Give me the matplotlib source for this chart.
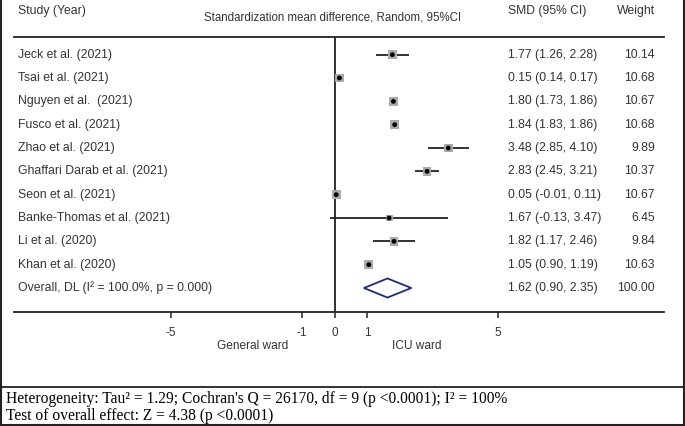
import matplotlib
matplotlib.use("Agg")
import matplotlib.pyplot as plt
from matplotlib.patches import Polygon
from matplotlib.lines import Line2D
from matplotlib.transforms import blended_transform_factory

# ---------------- data ----------------
studies = ["Jeck et al. (2021)", "Tsai et al. (2021)", "Nguyen et al.  (2021)",
           "Fusco et al. (2021)", "Zhao et al. (2021)", "Ghaffari Darab et al. (2021)",
           "Seon et al. (2021)", "Banke-Thomas et al. (2021)", "Li et al. (2020)",
           "Khan et al. (2020)"]
smd = [1.77, 0.15, 1.80, 1.84, 3.48, 2.83, 0.05, 1.67, 1.82, 1.05]
ci_low = [1.26, 0.14, 1.73, 1.83, 2.85, 2.45, -0.01, -0.13, 1.17, 0.90]
ci_high = [2.28, 0.17, 1.86, 1.86, 4.10, 3.21, 0.11, 3.47, 2.46, 1.19]
weights = [10.14, 10.68, 10.67, 10.68, 9.89, 10.37, 10.67, 6.45, 9.84, 10.63]
overall_label = "Overall, DL (I\u00b2 = 100.0%, p = 0.000)"
overall_smd, overall_low, overall_high, overall_weight = 1.62, 0.90, 2.35, 100.00
xticks = [-5, -1, 0, 1, 5]
left_side_label = "General ward"
right_side_label = "ICU ward"
heterogeneity_text = ("Heterogeneity: Tau\u00b2 = 1.29; Cochran's Q = 26170, df = 9 "
                      "(p <0.0001); I\u00b2 = 100%")
overall_effect_text = "Test of overall effect: Z = 4.38 (p <0.0001)"

# ---------------- figure ----------------
W, H = 685, 426
fig = plt.figure(figsize=(W / 100, H / 100), dpi=100)
fig.patch.set_facecolor("white")

sans = ["Liberation Sans", "DejaVu Sans"]
serif = ["Liberation Serif", "DejaVu Serif"]
tc = "#333333"

def fx(px):
    return px / W

def fy(py):
    return 1 - py / H

ax_left, ax_right, ax_top, ax_bot = 14, 664, 37, 312
ax = fig.add_axes([fx(ax_left), fy(ax_bot), (ax_right - ax_left) / W, (ax_bot - ax_top) / H])
ax.set_facecolor("none")

x0_px, scale = 334.5, 32.7
ax.set_xlim((ax_left - x0_px) / scale, (ax_right - x0_px) / scale)
row0_px, row_step = 54.7, 23.33
ax.set_ylim((ax_bot - row0_px) / row_step, (ax_top - row0_px) / row_step)

for s in ["left", "right"]:
    ax.spines[s].set_visible(False)
for s in ["top", "bottom"]:
    ax.spines[s].set_linewidth(1.3)
    ax.spines[s].set_color("#222222")
ax.set_yticks([])
ax.set_xticks(xticks)
ax.set_xticklabels([str(t) for t in xticks], fontfamily=sans, fontsize=8.5, color=tc)
ax.tick_params(axis="x", direction="out", length=4.5, width=1.1, color="#222222", pad=6.5)

ax.axvline(0, color="#222222", lw=1.3, zorder=1)

rows = list(range(len(studies)))
ax.hlines(rows, ci_low, ci_high, color="#222222", lw=1.3, zorder=2)
side_pt = [6.4 * (w / 10.68) ** 0.5 for w in weights]
ax.scatter(smd, rows, marker="s", s=[p ** 2 for p in side_pt], color="#aaaaaa",
           edgecolors="none", zorder=3)
ax.scatter(smd, rows, marker="o", s=12, color="black", edgecolors="none", zorder=4)

orow = len(studies)
h = 0.41
diamond = Polygon([(overall_low, orow), (overall_smd, orow - h), (overall_high, orow),
                   (overall_smd, orow + h)], closed=True, fill=False,
                  edgecolor="#1c2a86", lw=1.3, zorder=3)
ax.add_patch(diamond)

# row texts
tr = blended_transform_factory(fig.transFigure, ax.transData)
labels = studies + [overall_label]
cis = [f"{m:.2f} ({l:.2f}, {u:.2f})" for m, l, u in zip(smd, ci_low, ci_high)]
cis.append(f"{overall_smd:.2f} ({overall_low:.2f}, {overall_high:.2f})")
wts = [f"{w:.2f}" for w in weights] + [f"{overall_weight:.2f}"]
for i, (lab, c, w) in enumerate(zip(labels, cis, wts)):
    ax.text(fx(18), i, lab, transform=tr, ha="left", va="center",
            fontfamily=sans, fontsize=8.8, color=tc)
    ax.text(fx(508), i, c, transform=tr, ha="left", va="center",
            fontfamily=sans, fontsize=8.8, color=tc)
    ax.text(fx(655), i, w, transform=tr, ha="right", va="center",
            fontfamily=sans, fontsize=8.8, color=tc)

# headers
fig.text(fx(18), fy(11), "Study (Year)", ha="left", va="center",
         fontfamily=sans, fontsize=8.8, color=tc)
fig.text(fx(333), fy(18), "Standardization mean difference, Random, 95%CI",
         ha="center", va="center", fontfamily=sans, fontsize=8.3, color=tc)
fig.text(fx(508), fy(11), "SMD (95% CI)", ha="left", va="center",
         fontfamily=sans, fontsize=8.7, color=tc)
fig.text(fx(655), fy(11), "Weight", ha="right", va="center",
         fontfamily=sans, fontsize=8.8, color=tc)

# side labels
trs = blended_transform_factory(ax.transData, fig.transFigure)
ax.text(-2.5, fy(346), left_side_label, transform=trs, ha="center", va="center",
        fontfamily=sans, fontsize=8.6, color=tc)
ax.text(2.5, fy(346), right_side_label, transform=trs, ha="center", va="center",
        fontfamily=sans, fontsize=8.6, color=tc)

# borders
lc = "#222222"
fig.add_artist(Line2D([fx(1), fx(1)], [0, 1], color=lc, lw=1.5))
fig.add_artist(Line2D([fx(684), fx(684)], [0, 1], color=lc, lw=1.5))
fig.add_artist(Line2D([0, 1], [fy(425.3), fy(425.3)], color=lc, lw=1.5))
fig.add_artist(Line2D([0, 1], [fy(387), fy(387)], color=lc, lw=1.3))

# footer
fig.text(fx(6), fy(399), heterogeneity_text, ha="left", va="center",
         fontfamily=serif, fontsize=11.2, color="black")
fig.text(fx(6), fy(416.5), overall_effect_text, ha="left", va="center",
         fontfamily=serif, fontsize=11.2, color="black")

fig.savefig("out.png", dpi=100)
